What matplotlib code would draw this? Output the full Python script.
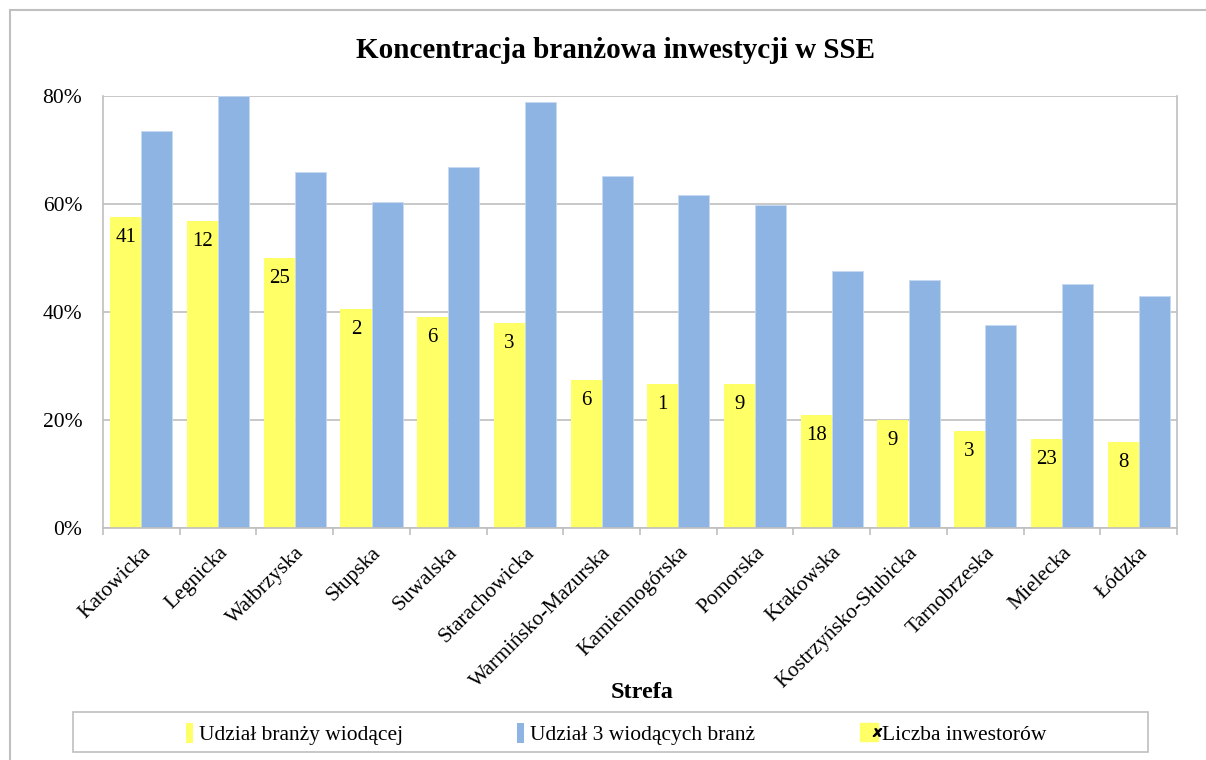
import numpy as np
import matplotlib
matplotlib.use("Agg")
import matplotlib.pyplot as plt
from matplotlib.patches import Rectangle, Patch
from matplotlib.lines import Line2D
from matplotlib.legend_handler import HandlerTuple
from matplotlib.ticker import PercentFormatter

plt.rcParams['font.family'] = ['Liberation Serif', 'DejaVu Serif']

strefy = ['Katowicka', 'Legnicka', 'Wałbrzyska', 'Słupska', 'Suwalska',
          'Starachowicka', 'Warmińsko-Mazurska', 'Kamiennogórska', 'Pomorska',
          'Krakowska', 'Kostrzyńsko-Słubicka', 'Tarnobrzeska', 'Mielecka', 'Łódzka']
udzial_wiodacej = [57.6, 56.9, 50.0, 40.6, 39.1, 38.0, 27.4, 26.7, 26.7,
                   20.9, 20.0, 18.0, 16.5, 15.9]
udzial_3 = [73.5, 80.0, 65.9, 60.4, 66.9, 78.9, 65.2, 61.7, 59.8,
            47.6, 45.9, 37.6, 45.2, 43.0]
liczba_inwestorow = [41, 12, 25, 2, 6, 3, 6, 1, 9, 18, 9, 3, 23, 8]

yellow = '#FFFF66'
blue = '#8EB4E3'
grid_c = '#BFBFBF'

fig = plt.figure(figsize=(12.06, 7.6), dpi=100)
fig.patches.append(Rectangle((10/1206, -0.5), 1.5, 1.5 - 10/760, transform=fig.transFigure,
                             fill=False, edgecolor='#BFBFBF', linewidth=1.5))
# legend frame
fig.patches.append(Rectangle((73/1206, 1 - 752/760), (1148-73)/1206, 40/760,
                             transform=fig.transFigure, fill=False,
                             edgecolor=grid_c, linewidth=1.2))

ax = fig.add_axes([103/1206, 1-528/760, (1177-103)/1206, (528-96)/760])
x = np.arange(len(strefy))
w = 0.405
b1 = ax.bar(x - w/2, udzial_wiodacej, w, color=yellow, zorder=2)
b2 = ax.bar(x + w/2, udzial_3, w, color=blue, edgecolor='#C6D9F1', linewidth=0.6, zorder=2)

for rect, n in zip(b1, liczba_inwestorow):
    ax.text(rect.get_x() + rect.get_width()/2, rect.get_height() - 2.0, str(n),
            ha='center', va='top', fontsize=15, zorder=3)

ax.set_xlim(-0.5, len(strefy) - 0.5)
ax.set_ylim(0, 80)
ax.set_yticks([0, 20, 40, 60, 80])
ax.yaxis.set_major_formatter(PercentFormatter(decimals=0))
ax.yaxis.grid(True, color=grid_c, linewidth=1.2, zorder=0)
ax.set_axisbelow(True)
ax.tick_params(axis='y', length=0, labelsize=15.5, pad=15)

ax.set_xticks(x)
ax.set_xticklabels(strefy, rotation=45, ha='right', rotation_mode='anchor', fontsize=15.5)
ax.set_xticks(np.arange(len(strefy) + 1) - 0.5, minor=True)
ax.tick_params(axis='x', which='major', length=0, pad=11)
ax.tick_params(axis='x', which='minor', length=5, color=grid_c, width=1.2)

for s in ['left', 'right', 'bottom']:
    ax.spines[s].set_color(grid_c)
    ax.spines[s].set_linewidth(1.2)
ax.spines['top'].set_visible(False)

fig.text(616/1206, 1 - 50/760, 'Koncentracja branżowa inwestycji w SSE', ha='center', va='center',
         fontsize=21, fontweight='bold')
fig.text(642/1206, 1 - 692/760, 'Strefa', ha='center', va='center', fontsize=17.5, fontweight='bold')

h3 = (Line2D([], [], marker='s', color=yellow, linestyle='none', markersize=13),
      Line2D([], [], marker='$x$', color='black', linestyle='none', markersize=6))
handles = [Patch(facecolor=yellow, edgecolor='none'), Patch(facecolor=blue, edgecolor='none'), h3]
labels = ['Udział branży wiodącej', 'Udział 3 wiodących branż', 'Liczba inwestorów']
leg = fig.legend(handles, labels, loc='center', ncol=3,
                 bbox_to_anchor=(616/1206, 1 - 734/760),
                 fontsize=15.5, frameon=False,
                 handlelength=0.35, handleheight=1.1, handletextpad=0.25,
                 columnspacing=5.3,
                 handler_map={tuple: HandlerTuple(ndivide=None)})

fig.savefig('out.png', dpi=100)
